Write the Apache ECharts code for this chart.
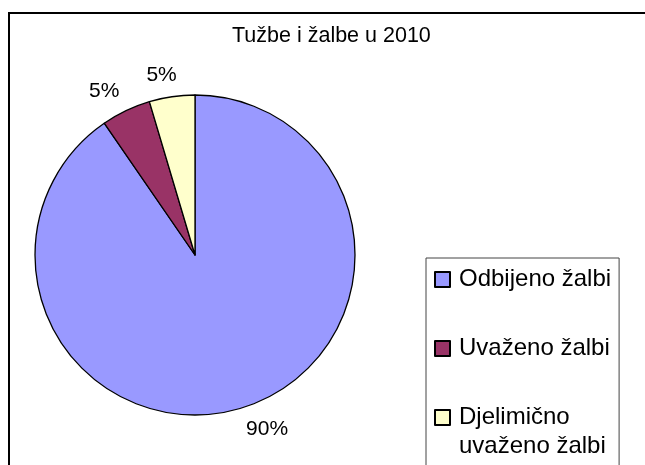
<!DOCTYPE html>
<html>
<head>
<meta charset="utf-8">
<script src="https://cdn.jsdelivr.net/npm/echarts@6/dist/echarts.min.js"></script>
<style>
  html, body { margin: 0; padding: 0; background: #fff; }
  #chart { width: 645px; height: 465px; }
</style>
</head>
<body>
<div id="chart"></div>
<script>
// podaci
var categories = ["Odbijeno žalbi", "Uvaženo žalbi", "Djelimično uvaženo žalbi"];
var shares = [90.4, 5.0, 4.6];
var colors = ["#9999FF", "#993366", "#FFFFCC"];
var titleText = "Tužbe i žalbe u 2010";

var pieData = categories.map(function (name, i) {
  var item = { name: name, value: shares[i], itemStyle: { color: colors[i] } };
  // mala kriska: natpis malo udesno kao u Excelu
  if (i === 2) item.labelLine = { show: false, length: 22, length2: -13 };
  return item;
});

var myChart = echarts.init(document.getElementById("chart"));
myChart.setOption({
  animation: false,
  textStyle: { fontFamily: "Liberation Sans, Arial, sans-serif" },
  title: {
    text: titleText,
    left: 232,
    top: 25,
    padding: 0,
    textStyle: { fontSize: 21.5, fontWeight: "normal", color: "#000" }
  },
  graphic: [
    {
      type: "rect",
      shape: { x: 9, y: 13, width: 700, height: 500 },
      style: { fill: null, stroke: "#000", lineWidth: 2 },
      silent: true
    }
  ],
  legend: {
    orient: "vertical",
    left: 426,
    top: 258,
    height: 400,
    // prazni redovi drze ikonu u visini prvog reda teksta
    padding: [-22, 8, 40, 8],
    itemGap: -18,
    itemWidth: 15,
    itemHeight: 15,
    icon: "rect",
    borderColor: "#444",
    borderWidth: 1,
    textStyle: { fontSize: 24, color: "#000", lineHeight: 29, padding: [0, 0, 0, 4] },
    formatter: function (name) {
      if (name === "Djelimično uvaženo žalbi") {
        return "\nDjelimično\nuvaženo žalbi";
      }
      return "\n" + name + "\n";
    },
    data: categories
  },
  series: [
    {
      type: "pie",
      center: [195, 255],
      radius: 160,
      startAngle: 90,
      clockwise: true,
      avoidLabelOverlap: false,
      itemStyle: { borderColor: "#000", borderWidth: 1.3 },
      label: {
        show: true,
        position: "outside",
        fontSize: 21,
        color: "#000",
        formatter: function (p) {
          return Math.round(p.value) + "%";
        }
      },
      labelLine: { show: false, length: 22, length2: -8 },
      emphasis: { disabled: true },
      data: pieData
    }
  ]
});
window.addEventListener("resize", function () {
  myChart.resize();
});
</script>
</body>
</html>
